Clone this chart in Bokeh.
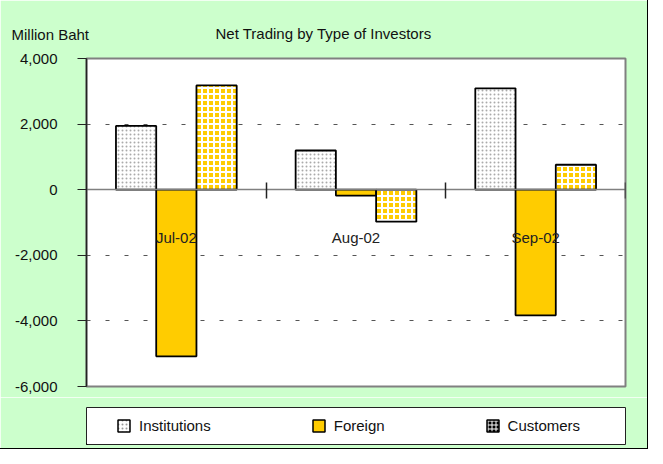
import numpy as np
from bokeh.plotting import figure
from bokeh.layouts import column
from bokeh.models import (Range1d, NumeralTickFormatter, FixedTicker, LinearAxis,
                          Legend, LegendItem, Label, Title, ColumnDataSource)
from bokeh.transform import dodge
from bokeh.embed import file_html
from bokeh.resources import INLINE

# ---- data ----
months = ["Jul-02", "Aug-02", "Sep-02"]
institutions = [1945, 1195, 3090]
foreign = [-5080, -180, -3830]
customers = [3180, -975, 760]
y_ticks = [-6000, -4000, -2000, 0, 2000, 4000]
grid_ticks = [-4000, -2000, 2000]
series_names = ["Institutions", "Foreign", "Customers"]
title_text = "Net Trading by Type of Investors"
unit_text = "Million Baht"

FONT = "Liberation Sans"
GREEN = "#CCFFCC"
GOLD = "#FFCC00"
TXT = "#111111"
W = 647

idx = np.arange(len(months))
centers = [float(c) for c in idx + 0.5]
boundaries = [float(b) for b in idx[1:]] + [float(len(months))]
bw = 0.224

src = ColumnDataSource(dict(x=centers, inst=institutions, forg=foreign, cust=customers))

# ---------- main chart ----------
p = figure(width=W, height=397, x_range=Range1d(0, len(months)),
           y_range=Range1d(-6000, 4000), output_backend="svg",
           toolbar_location=None, x_axis_type=None,
           min_border_left=86, min_border_right=22,
           min_border_top=58, min_border_bottom=11)
p.border_fill_color = GREEN
p.background_fill_color = "white"
p.outline_line_color = "#808080"
p.outline_line_width = 2

p.title = Title(text=title_text, align="left", offset=129, vertical_align="bottom",
                standoff=0, text_font=FONT, text_font_size="15px",
                text_font_style="normal", text_color=TXT)
p.add_layout(Label(x=-75, y=24, x_units="screen", y_units="screen", text=unit_text,
                   text_font=FONT, text_font_size="15px", text_baseline="middle",
                   text_color=TXT), "above")

ya = p.yaxis[0]
ya.ticker = FixedTicker(ticks=y_ticks)
ya.formatter = NumeralTickFormatter(format="0,0")
ya.major_label_text_font = FONT
ya.major_label_text_font_size = "15px"
ya.major_label_text_color = TXT
ya.major_tick_out = 9
ya.major_tick_in = 0
ya.minor_tick_line_color = None
ya.axis_line_color = "#222222"
ya.axis_line_width = 1.5
ya.major_tick_line_color = "#222222"
ya.major_label_standoff = 20

p.xgrid.visible = False
p.ygrid.ticker = FixedTicker(ticks=grid_ticks)
p.ygrid.grid_line_color = "#555555"
p.ygrid.grid_line_dash = "4 15"
p.ygrid.grid_line_width = 1

# zero line with group-boundary ticks
xa = LinearAxis(fixed_location=0, ticker=FixedTicker(ticks=boundaries),
                major_label_text_color=None, major_tick_in=7, major_tick_out=9,
                axis_line_color="#808080", axis_line_width=1.5,
                major_tick_line_color="#222222", major_tick_line_width=1.5,
                minor_tick_line_color=None)
p.add_layout(xa, "below")
# month labels below the zero line
xc = LinearAxis(fixed_location=0, ticker=FixedTicker(ticks=centers),
                major_label_overrides={c: m for c, m in zip(centers, months)},
                major_tick_in=0, major_tick_out=0, major_label_standoff=39,
                axis_line_color=None, minor_tick_line_color=None,
                major_label_text_font=FONT, major_label_text_font_size="15px",
                major_label_text_color="#222222")
p.add_layout(xc, "below")

p.vbar(x=dodge("x", -bw), top="inst", bottom=0, width=bw, source=src,
       fill_color="white", line_color="black", line_width=1.8,
       hatch_pattern="dot", hatch_color="#AAAAAA", hatch_scale=4, hatch_weight=1)
p.vbar(x=dodge("x", 0), top="forg", bottom=0, width=bw, source=src,
       fill_color=GOLD, line_color="black", line_width=1.8)
p.vbar(x=dodge("x", bw), top="cust", bottom=0, width=bw, source=src,
       fill_color=GOLD, line_color="black", line_width=1.8,
       hatch_pattern="cross", hatch_color="white", hatch_scale=6, hatch_weight=2)

# ---------- legend footer (its ranges keep the proxy bars out of view) ----------
foot = figure(width=W, height=51, output_backend="svg", toolbar_location=None,
              x_axis_type=None, y_axis_type=None,
              x_range=Range1d(100, 101), y_range=Range1d(100000, 100001),
              min_border_left=86, min_border_right=22,
              min_border_top=10, min_border_bottom=4)
foot.title.visible = False
foot.xgrid.visible = False
foot.ygrid.visible = False
foot.border_fill_color = GREEN
foot.background_fill_color = "white"
foot.outline_line_color = "#222222"
foot.outline_line_width = 1
d_inst = foot.vbar(x="x", top="inst", width=bw, source=src, fill_color="white",
                   line_color="black", line_width=1.5, hatch_pattern="dot",
                   hatch_color="#999999", hatch_scale=4, hatch_weight=1)
d_forg = foot.vbar(x="x", top="forg", width=bw, source=src, fill_color=GOLD,
                   line_color="black", line_width=1.5)
d_cust = foot.vbar(x="x", top="cust", width=bw, source=src, fill_color="black",
                   line_color="black", line_width=1.5, hatch_pattern="cross",
                   hatch_color="white", hatch_scale=4, hatch_weight=1)
leg = Legend(items=[LegendItem(label=n, renderers=[r]) for n, r in
                    zip(series_names, [d_inst, d_forg, d_cust])],
             orientation="horizontal", location=(30, 8.5), margin=0,
             glyph_width=15, glyph_height=15, label_standoff=8, spacing=100,
             padding=0, border_line_color=None, background_fill_alpha=0,
             label_text_font=FONT, label_text_font_size="15px",
             label_text_color=TXT, label_height=20)
foot.add_layout(leg, "center")

page = column(p, foot, spacing=0)
page.styles = {"outline": "1px solid black"}

open("out.html", "w").write(file_html(page, INLINE))
